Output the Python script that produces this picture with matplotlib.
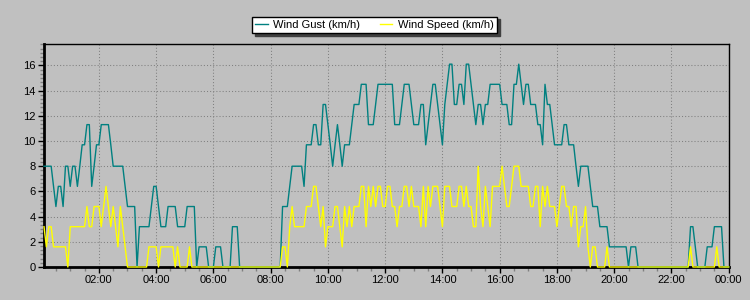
import matplotlib

matplotlib.use("Agg")
import matplotlib.pyplot as plt  # noqa: E402
import matplotlib.dates as mdates  # noqa: E402
import pandas as pd  # noqa: E402
from matplotlib.ticker import AutoMinorLocator, MultipleLocator  # noqa: E402

# 5-minute samples over one day (first at 00:05), values in km/h
first_sample = "2024-01-01 00:05"
day_end = "2024-01-02 00:00"

wind_gust = [
    8.0, 8.0, 8.0, 8.0, 6.4, 4.8, 6.4, 6.4, 4.8, 8.0, 8.0, 6.4,          # 00h
    8.0, 8.0, 6.4, 8.0, 9.7, 9.7, 11.3, 11.3, 6.4, 8.0, 9.7, 9.7,       # 01h
    11.3, 11.3, 11.3, 11.3, 9.7, 8.0, 8.0, 8.0, 8.0, 8.0, 6.4, 4.8,     # 02h
    4.8, 4.8, 4.8, 0.0, 3.2, 3.2, 3.2, 3.2, 3.2, 4.8, 6.4, 6.4,         # 03h
    4.8, 3.2, 3.2, 3.2, 4.8, 4.8, 4.8, 4.8, 3.2, 3.2, 3.2, 3.2,         # 04h
    4.8, 4.8, 4.8, 4.8, 0.0, 1.6, 1.6, 1.6, 1.6, 0.0, 0.0, 0.0,         # 05h
    1.6, 1.6, 1.6, 0.0, 0.0, 0.0, 0.0, 3.2, 3.2, 3.2, 0.0, 0.0,         # 06h
    0.0, 0.0, 0.0, 0.0, 0.0, 0.0, 0.0, 0.0, 0.0, 0.0, 0.0, 0.0,         # 07h
    0.0, 0.0, 0.0, 0.0, 4.8, 4.8, 4.8, 6.4, 8.0, 8.0, 8.0, 8.0,         # 08h
    8.0, 6.4, 9.7, 9.7, 9.7, 11.3, 11.3, 9.7, 9.7, 12.9, 12.9, 11.3,    # 09h
    9.7, 8.0, 9.7, 11.3, 9.7, 8.0, 9.7, 9.7, 9.7, 11.3, 12.9, 12.9,     # 10h
    12.9, 14.5, 14.5, 14.5, 11.3, 11.3, 11.3, 12.9, 14.5, 14.5, 14.5, 14.5,  # 11h
    14.5, 14.5, 14.5, 11.3, 11.3, 11.3, 12.9, 14.5, 14.5, 14.5, 12.9, 11.3,  # 12h
    11.3, 11.3, 12.9, 12.9, 9.7, 11.3, 12.9, 14.5, 14.5, 12.9, 11.3, 9.7,    # 13h
    12.9, 14.5, 16.1, 16.1, 12.9, 12.9, 14.5, 14.5, 12.9, 16.1, 16.1, 14.5,  # 14h
    12.9, 11.3, 12.9, 12.9, 11.3, 12.9, 12.9, 14.5, 14.5, 14.5, 14.5, 14.5,  # 15h
    12.9, 12.9, 12.9, 11.3, 11.3, 14.5, 14.5, 16.1, 14.5, 12.9, 14.5, 14.5,  # 16h
    12.9, 12.9, 12.9, 11.3, 11.3, 9.7, 14.5, 12.9, 12.9, 11.3, 9.7, 9.7,     # 17h
    9.7, 9.7, 11.3, 11.3, 9.7, 9.7, 9.7, 8.0, 6.4, 8.0, 8.0, 8.0,       # 18h
    8.0, 6.4, 4.8, 4.8, 4.8, 3.2, 3.2, 3.2, 3.2, 1.6, 1.6, 1.6,         # 19h
    1.6, 1.6, 1.6, 1.6, 1.6, 0.0, 1.6, 1.6, 1.6, 0.0, 0.0, 0.0,         # 20h
    0.0, 0.0, 0.0, 0.0, 0.0, 0.0, 0.0, 0.0, 0.0, 0.0, 0.0, 0.0,         # 21h
    0.0, 0.0, 0.0, 0.0, 0.0, 0.0, 0.0, 3.2, 3.2, 1.6, 0.0, 0.0,         # 22h
    0.0, 0.0, 1.6, 1.6, 1.6, 3.2, 3.2, 3.2, 3.2, 0.0, 0.0, 0.0,         # 23h
]

wind_speed = [
    3.2, 1.6, 3.2, 3.2, 1.6, 1.6, 1.6, 1.6, 1.6, 1.6, 0.0, 3.2,         # 00h
    3.2, 3.2, 3.2, 3.2, 3.2, 3.2, 4.8, 3.2, 3.2, 4.8, 4.8, 4.8,         # 01h
    3.2, 4.8, 6.4, 4.8, 3.2, 4.8, 3.2, 1.6, 4.8, 3.2, 1.6, 0.0,         # 02h
    0.0, 0.0, 0.0, 0.0, 0.0, 0.0, 0.0, 0.0, 1.6, 1.6, 1.6, 1.6,         # 03h
    0.0, 1.6, 1.6, 1.6, 1.6, 1.6, 1.6, 0.0, 1.6, 0.0, 0.0, 0.0,         # 04h
    0.0, 1.6, 0.0, 0.0, 0.0, 0.0, 0.0, 0.0, 0.0, 0.0, 0.0, 0.0,         # 05h
    0.0, 0.0, 0.0, 0.0, 0.0, 0.0, 0.0, 0.0, 0.0, 0.0, 0.0, 0.0,         # 06h
    0.0, 0.0, 0.0, 0.0, 0.0, 0.0, 0.0, 0.0, 0.0, 0.0, 0.0, 0.0,         # 07h
    0.0, 0.0, 0.0, 0.0, 1.6, 1.6, 0.0, 3.2, 4.8, 3.2, 3.2, 3.2,         # 08h
    3.2, 3.2, 4.8, 4.8, 4.8, 6.4, 6.4, 4.8, 3.2, 4.8, 1.6, 3.2,         # 09h
    3.2, 3.2, 4.8, 4.8, 3.2, 1.6, 4.8, 3.2, 4.8, 3.2, 4.8, 4.8,         # 10h
    4.8, 6.4, 6.4, 3.2, 6.4, 4.8, 6.4, 4.8, 6.4, 6.4, 4.8, 4.8,         # 11h
    6.4, 6.4, 4.8, 4.8, 3.2, 4.8, 4.8, 6.4, 6.4, 4.8, 6.4, 4.8,         # 12h
    4.8, 4.8, 3.2, 6.4, 3.2, 6.4, 4.8, 6.4, 6.4, 6.4, 4.8, 3.2,         # 13h
    6.4, 6.4, 6.4, 4.8, 4.8, 4.8, 6.4, 6.4, 4.8, 6.4, 4.8, 4.8,         # 14h
    3.2, 3.2, 8.0, 4.8, 3.2, 6.4, 4.8, 3.2, 6.4, 6.4, 6.4, 6.4,         # 15h
    8.0, 6.4, 4.8, 4.8, 6.4, 8.0, 8.0, 8.0, 6.4, 6.4, 6.4, 6.4,         # 16h
    4.8, 4.8, 6.4, 6.4, 3.2, 6.4, 4.8, 6.4, 4.8, 4.8, 4.8, 3.2,         # 17h
    4.8, 6.4, 6.4, 4.8, 4.8, 3.2, 4.8, 4.8, 1.6, 3.2, 3.2, 4.8,         # 18h
    1.6, 0.0, 1.6, 1.6, 0.0, 0.0, 0.0, 0.0, 1.6, 0.0, 0.0, 0.0,         # 19h
    0.0, 0.0, 0.0, 0.0, 0.0, 0.0, 0.0, 0.0, 0.0, 0.0, 0.0, 0.0,         # 20h
    0.0, 0.0, 0.0, 0.0, 0.0, 0.0, 0.0, 0.0, 0.0, 0.0, 0.0, 0.0,         # 21h
    0.0, 0.0, 0.0, 0.0, 0.0, 0.0, 0.0, 1.6, 0.0, 0.0, 0.0, 0.0,         # 22h
    0.0, 0.0, 0.0, 0.0, 0.0, 0.0, 1.6, 0.0, 0.0, 0.0, 0.0, 0.0,         # 23h
]

times = pd.date_range(first_sample, periods=len(wind_gust), freq="5min")
tick_times = pd.date_range("2024-01-01 02:00", day_end, freq="2h")

BG = "#c0c0c0"
plt.rcParams["font.family"] = ["Liberation Sans", "DejaVu Sans"]
plt.rcParams["font.size"] = 8

fig = plt.figure(figsize=(7.5, 3.0), dpi=100, facecolor=BG)
ax = fig.add_axes([44 / 750, 1 - 267 / 300, (728.7 - 44) / 750, (267 - 44) / 300])
ax.set_facecolor(BG)

ax.plot(times, wind_gust, color="#008080", lw=1.0, label="Wind Gust (km/h)",
        zorder=3, clip_on=False)
ax.plot(times, wind_speed, color="#ffff00", lw=1.0, label="Wind Speed (km/h)",
        zorder=4, clip_on=False)

ax.set_xlim(pd.Timestamp(first_sample), pd.Timestamp(day_end))
ax.set_ylim(0, 17.7)

ax.set_xticks(tick_times)
ax.xaxis.set_minor_locator(mdates.MinuteLocator(byminute=[0, 30]))
ax.xaxis.set_major_formatter(mdates.DateFormatter("%H:%M"))
ax.yaxis.set_major_locator(MultipleLocator(2))
ax.yaxis.set_minor_locator(AutoMinorLocator(6))

ax.tick_params(which="major", direction="out", length=4, width=1, color="black",
               labelsize=8, pad=2)
ax.tick_params(which="minor", direction="out", length=3, width=1, color="#808080")
ax.grid(True, which="major", color="#808080", linestyle=(0, (1, 2)), linewidth=0.75)

for side in ("left", "bottom"):
    ax.spines[side].set_linewidth(2.0)
for side in ("top", "right"):
    ax.spines[side].set_linewidth(1.0)

leg = fig.legend(loc="center", bbox_to_anchor=(374.5 / 750, 1 - 25 / 300), ncol=2,
                 frameon=True, fancybox=False, shadow={"color": "#404040", "alpha": 1.0},
                 handlelength=1.1, handletextpad=0.5, columnspacing=1.8,
                 borderpad=0.3, fontsize=8)
leg.get_frame().set_edgecolor("black")
leg.get_frame().set_linewidth(1.0)
leg.get_frame().set_facecolor("white")
leg.get_frame().set_alpha(1.0)

fig.savefig("out.png", dpi=100, facecolor=BG)
